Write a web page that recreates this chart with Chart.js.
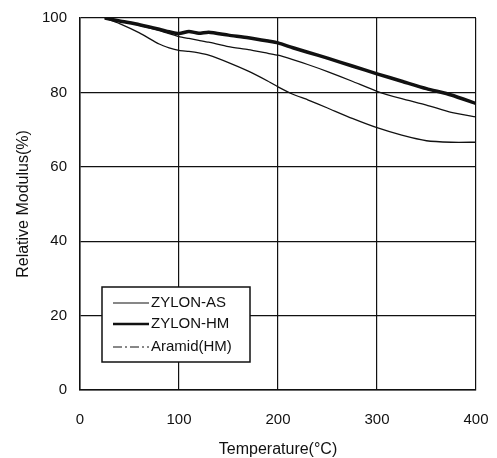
<!DOCTYPE html>
<html>
<head>
<meta charset="utf-8">
<script src="https://cdn.jsdelivr.net/npm/chart.js@4.4.1/dist/chart.umd.min.js"></script>
<style>
  html, body { margin: 0; padding: 0; background: #fff; }
  #wrap { width: 497px; height: 458px; position: relative; }
</style>
</head>
<body>
<div id="wrap"><canvas id="modChart"></canvas></div>
<script>
// --- data ---
const temps = [25, 40, 60, 80, 90, 100, 110, 120, 130, 150, 170, 190, 200, 215, 230, 250, 275, 300, 325, 350, 375, 400];
const zylonAS = [100, 99.2, 98, 96.6, 95.8, 95, 94.5, 94, 93.5, 92.3, 91.5, 90.5, 90, 88.8, 87.5, 85.6, 83, 80.3, 78.3, 76.6, 74.6, 73.4];
const zylonHM = [100, 99.2, 98.2, 97, 96.3, 95.8, 96.4, 95.9, 96.2, 95.4, 94.7, 93.8, 93.3, 92, 90.8, 89.2, 87.1, 85, 83, 81, 79.3, 77];
const aramidHM = [100, 98.5, 96, 93, 92, 91.3, 91, 90.6, 90, 88, 85.7, 83, 81.5, 79.5, 78, 75.8, 73, 70.5, 68.5, 67, 66.6, 66.6];
const seriesNames = ['ZYLON-AS', 'ZYLON-HM', 'Aramid(HM)'];
const xTicks = [0, 100, 200, 300, 400];
const yTicks = [0, 20, 40, 60, 80, 100];

const FONT = "'Liberation Sans', Arial, sans-serif";

function pts(vals) {
    return temps.map((t, i) => ({ x: t, y: vals[i] }));
}

// legend drawn as a framed box inside the plot, like the original
const boxLegend = {
    id: 'boxLegend',
    afterDraw(chart) {
        const ctx = chart.ctx;
        const a = chart.chartArea;
        const left = a.left + 22, top = a.top + 269, w = 148, h = 75;
        ctx.save();
        ctx.fillStyle = '#fff';
        ctx.fillRect(left, top, w, h);
        ctx.strokeStyle = '#111';
        ctx.lineWidth = 1.5;
        ctx.strokeRect(left, top, w, h);
        const rows = [16, 37, 60];
        const styles = [
            { width: 1.2, dash: [] },
            { width: 2.5, dash: [] },
            { width: 1, dash: [9, 3, 2, 3] }
        ];
        ctx.font = '15px ' + FONT;
        ctx.textBaseline = 'middle';
        seriesNames.forEach((name, i) => {
            const y = top + rows[i];
            ctx.beginPath();
            ctx.setLineDash(styles[i].dash);
            ctx.lineWidth = styles[i].width;
            ctx.moveTo(left + 11, y);
            ctx.lineTo(left + 47, y);
            ctx.stroke();
            ctx.setLineDash([]);
            ctx.fillStyle = '#111';
            ctx.fillText(name, left + 49, y);
        });
        ctx.restore();
    }
};

const ctx = document.getElementById('modChart').getContext('2d');
new Chart(ctx, {
    type: 'line',
    data: {
        datasets: [
            { label: seriesNames[0], data: pts(zylonAS), borderColor: '#111', borderWidth: 1.3, pointRadius: 0, tension: 0.2 },
            { label: seriesNames[1], data: pts(zylonHM), borderColor: '#111', borderWidth: 3.5, pointRadius: 0, tension: 0.2 },
            { label: seriesNames[2], data: pts(aramidHM), borderColor: '#111', borderWidth: 1.3, pointRadius: 0, tension: 0.2 }
        ]
    },
    options: {
        responsive: true,
        maintainAspectRatio: false,
        animation: false,
        layout: { padding: { left: 10, right: 21, top: 18, bottom: 0 } },
        plugins: {
            legend: { display: false },
            tooltip: { enabled: false }
        },
        scales: {
            x: {
                type: 'linear',
                min: 0,
                max: 400,
                afterBuildTicks: (s) => { s.ticks = xTicks.map(v => ({ value: v })); },
                afterFit: (s) => { s.height = 68; s.paddingLeft = 0; s.paddingRight = 0; },
                grid: { color: '#111', lineWidth: 1.2, drawTicks: false },
                border: { color: '#111', width: 1.5 },
                ticks: { color: '#111', font: { size: 15, family: FONT }, padding: 21 },
                title: { display: true, text: 'Temperature(°C)', color: '#111', font: { size: 16, family: FONT }, padding: { top: 0, bottom: -1 } }
            },
            y: {
                min: 0,
                max: 100,
                afterBuildTicks: (s) => { s.ticks = yTicks.map(v => ({ value: v })); },
                afterFit: (s) => { s.width = 70; s.paddingTop = 0; s.paddingBottom = 0; },
                grid: { color: '#111', lineWidth: 1.2, drawTicks: false },
                border: { color: '#111', width: 1.5 },
                ticks: { color: '#111', font: { size: 15, family: FONT }, padding: 13 },
                title: { display: true, text: 'Relative Modulus(%)', color: '#111', font: { size: 16, family: FONT }, padding: { bottom: 4 } }
            }
        }
    },
    plugins: [boxLegend]
});
</script>
</body>
</html>
